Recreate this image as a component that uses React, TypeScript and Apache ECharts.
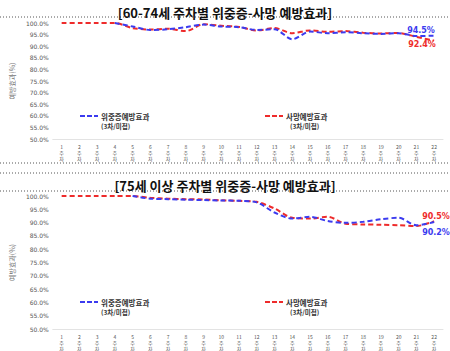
import React, { useEffect, useRef } from "react";
import * as echarts from "echarts";

const weeks = ["1주차","2주차","3주차","4주차","5주차","6주차","7주차","8주차","9주차","10주차","11주차","12주차","13주차","14주차","15주차","16주차","17주차","18주차","19주차","20주차","21주차","22주차"];
const yTicks = [50, 55, 60, 65, 70, 75, 80, 85, 90, 95, 100];

const severe6074 = [null, null, null, 100, 98.5, 97.0, 97.3, 98.2, 99.3, 98.5, 98.2, 97.0, 97.3, 93.0, 96.3, 95.6, 96.0, 95.6, 95.3, 95.6, 94.4, 94.5];
const death6074 = [100, 100, 100, 100, 97.8, 97.2, 97.5, 96.5, 99.5, 98.8, 98.3, 96.8, 97.8, 95.6, 96.8, 96.2, 96.5, 95.8, 95.5, 95.7, 94.0, 92.4];
const severe75 = [null, null, null, null, 100, 99.0, 98.8, 98.6, 98.5, 98.3, 98.2, 97.6, 93.8, 91.5, 92.2, 90.6, 89.9, 90.3, 91.3, 91.8, 89.0, 90.2];
const death75 = [100, 100, 100, 100, 100, 99.3, 99.0, 98.8, 98.7, 98.4, 98.2, 97.8, 95.3, 91.8, 91.5, 92.2, 89.6, 89.3, 89.2, 89.0, 88.7, 90.5];

const titles = ["[60-74세 주차별 위중증-사망 예방효과]", "[75세 이상 주차별 위중증-사망 예방효과]"];
const seriesNames = ["위중증예방효과", "사망예방효과"];
const legendSub = "(3차/미접)";

const BLUE = "#3b3bef";
const RED = "#ee2b2b";
const FONT = "'Noto Sans CJK KR', 'Noto Sans', sans-serif";

export default function App() {
  const ref = useRef<HTMLDivElement>(null);
  useEffect(() => {
    if (!ref.current) return;
    const chart = echarts.init(ref.current, null, { renderer: "svg" });
    const grids = [
      { left: 43, right: 7, top: 23, height: 116 },
      { left: 43, right: 7, top: 196, height: 133 },
    ];
    const xAxes = grids.map((_, i) => ({
      type: "category",
      gridIndex: i,
      data: weeks,
      boundaryGap: true,
      axisLine: { show: true, lineStyle: { color: "#e3e3e3" } },
      axisTick: { show: false },
      axisLabel: {
        interval: 0,
        fontSize: 5,
        lineHeight: 6,
        color: "#555",
        fontFamily: FONT,
        margin: 4,
        formatter: (v: string) => v.replace(/(\d+)(주)(차)/, "$1\n$2\n$3"),
      },
    }));
    const yAxes = grids.map((_, i) => ({
      type: "value",
      gridIndex: i,
      min: yTicks[0],
      max: yTicks[yTicks.length - 1],
      interval: 5,
      name: "예방효과(%)",
      nameLocation: "middle",
      nameGap: 30,
      nameRotate: 90,
      nameTextStyle: { fontSize: 7, color: "#777", fontFamily: FONT },
      axisLine: { show: false },
      axisTick: { show: false },
      splitLine: { show: false },
      axisLabel: {
        fontSize: 6,
        color: "#555",
        margin: 4,
        fontFamily: "'DejaVu Sans', sans-serif",
        formatter: (v: number) => `${v.toFixed(1)}%`,
      },
    }));
    const line = (name: string, data: any[], color: string, idx: number, offset: number[]) => ({
      name,
      type: "line",
      xAxisIndex: idx,
      yAxisIndex: idx,
      data,
      smooth: 0.3,
      showSymbol: false,
      symbol: "none",
      connectNulls: false,
      lineStyle: { color, width: 2, type: [5, 3] },
      itemStyle: { color },
      endLabel: {
        show: true,
        offset,
        formatter: (p: any) => `${Number(p.value).toFixed(1)}%`,
        color,
        fontSize: 8,
        fontWeight: "bold",
        fontFamily: "'DejaVu Sans', sans-serif",
      },
      z: color === BLUE ? 3 : 2,
    });
    const legendYs = [116, 302];
    const graphics: any[] = [];
    legendYs.forEach((y) => {
      [
        { x: 80, color: BLUE, name: seriesNames[0], subX: 101 },
        { x: 265, color: RED, name: seriesNames[1], subX: 290 },
      ].forEach((it) => {
        graphics.push(
          {
            type: "line",
            shape: { x1: it.x, y1: y, x2: it.x + 18, y2: y },
            style: { stroke: it.color, lineWidth: 2, lineDash: [5, 2] },
            silent: true,
          },
          {
            type: "text",
            x: it.x + 21,
            y: y,
            style: { text: it.name, fontSize: 7.5, fontWeight: "bold", fill: "#333", fontFamily: FONT, verticalAlign: "middle" },
            silent: true,
          },
          {
            type: "text",
            x: it.subX,
            y: y + 10,
            style: { text: legendSub, fontSize: 6.5, fontWeight: "bold", fill: "#333", fontFamily: FONT, verticalAlign: "middle" },
            silent: true,
          }
        );
      });
    });
    [17, 163, 173, 191].forEach((y) => {
      graphics.push({
        type: "line",
        shape: { x1: 0, y1: y, x2: 450, y2: y },
        style: { stroke: "#555", lineWidth: 1, lineDash: [1, 2] },
        silent: true,
      });
    });
    chart.setOption({
      animation: false,
      backgroundColor: "#fff",
      title: [
        { text: titles[0], left: "center", top: 1, textStyle: { fontSize: 13, fontWeight: "bold", color: "#111", fontFamily: FONT } },
        { text: titles[1], left: "center", top: 174, textStyle: { fontSize: 13, fontWeight: "bold", color: "#111", fontFamily: FONT } },
      ],
      grid: grids,
      xAxis: xAxes,
      yAxis: yAxes,
      graphic: graphics,
      series: [
        line(seriesNames[0], severe6074, BLUE, 0, [-35, -5]),
        line(seriesNames[1], death6074, RED, 0, [-34, 4]),
        line(seriesNames[0], severe75, BLUE, 1, [-20, 10]),
        line(seriesNames[1], death75, RED, 1, [-20, -5]),
      ],
    });
    return () => chart.dispose();
  }, []);
  return <div ref={ref} style={{ width: 450, height: 351, position: "absolute", left: 0, top: 0 }} />;
}
